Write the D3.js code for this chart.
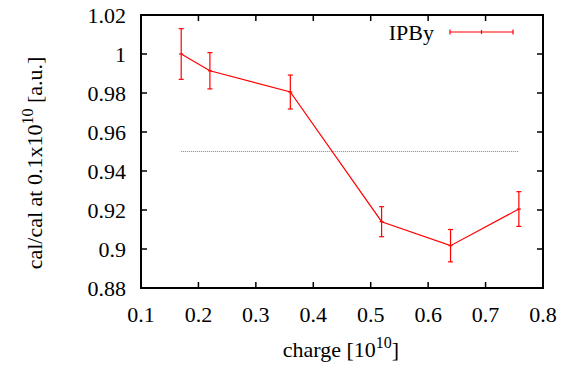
<!DOCTYPE html>
<html><head><meta charset="utf-8">
<script src="https://cdn.jsdelivr.net/npm/d3@7"></script>
</head><body style="margin:0">
<svg id="c" width="562" height="367" font-family="Times New Roman, Liberation Serif, serif"></svg>
<script>
const charge = [0.170, 0.220, 0.360, 0.519, 0.639, 0.758];
const ratio = [1.000, 0.9914, 0.9805, 0.914, 0.9017, 0.9205];
const errs = [0.013, 0.0093, 0.0087, 0.0077, 0.0083, 0.0089];
const refLevel = 0.95;
const xTicks = [0.1,0.2,0.3,0.4,0.5,0.6,0.7,0.8];
const yTicks = [0.88,0.9,0.92,0.94,0.96,0.98,1,1.02];
const seriesName = "IPBy";

const svg = d3.select("#c");
const L=141, R=543, T=15, B=288;
const x = d3.scaleLinear().domain([0.1,0.8]).range([L,R]);
const y = d3.scaleLinear().domain([0.88,1.02]).range([B,T]);
const fs = 22, tl = 6;
const FF = "Times New Roman, Liberation Serif, serif";
function txt(sel){ return sel.append("text").attr("font-size",fs).attr("font-family",FF).style("font-family","'Times New Roman','Liberation Serif',serif"); }

const g = svg;
xTicks.forEach(t=>{
  txt(g).attr("x",x(t)).attr("y",322).attr("text-anchor","middle").text(String(+t.toFixed(2)));
});
yTicks.forEach(t=>{
  txt(g).attr("x",126).attr("y",y(t)+7.5).attr("text-anchor","end").text(String(+t.toFixed(2)));
});
xTicks.slice(1,-1).forEach(t=>{
  g.append("line").attr("x1",x(t)).attr("x2",x(t)).attr("y1",B).attr("y2",B-tl).attr("stroke","#000").attr("stroke-width",1.5);
  g.append("line").attr("x1",x(t)).attr("x2",x(t)).attr("y1",T).attr("y2",T+tl).attr("stroke","#000").attr("stroke-width",1.5);
});
yTicks.slice(1,-1).forEach(t=>{
  g.append("line").attr("x1",L).attr("x2",L+tl).attr("y1",y(t)).attr("y2",y(t)).attr("stroke","#000").attr("stroke-width",1.5);
  g.append("line").attr("x1",R).attr("x2",R-tl).attr("y1",y(t)).attr("y2",y(t)).attr("stroke","#000").attr("stroke-width",1.5);
});
g.append("line").attr("x1",x(charge[0])).attr("x2",x(charge[charge.length-1])).attr("y1",y(refLevel)).attr("y2",y(refLevel))
  .attr("stroke","#888").attr("stroke-width",1).attr("stroke-dasharray","1,1");
const data = charge.map((c,i)=>({c, v:ratio[i], e:errs[i]}));
g.append("path").datum(data).attr("fill","none").attr("stroke","#f00").attr("stroke-width",1.2)
  .attr("d", d3.line().x(d=>x(d.c)).y(d=>y(d.v)));
const cap = 2.5;
data.forEach(d=>{
  const xc=x(d.c);
  g.append("line").attr("x1",xc).attr("x2",xc).attr("y1",y(d.v-d.e)).attr("y2",y(d.v+d.e)).attr("stroke","#f00").attr("stroke-width",1.2);
  [d.v-d.e,d.v+d.e].forEach(v=>g.append("line").attr("x1",xc-cap).attr("x2",xc+cap).attr("y1",y(v)).attr("y2",y(v)).attr("stroke","#f00").attr("stroke-width",1.2));
  g.append("line").attr("x1",xc-2).attr("x2",xc+2).attr("y1",y(d.v)).attr("y2",y(d.v)).attr("stroke","#f00").attr("stroke-width",1.2);
});
txt(g).attr("x",434).attr("y",40).attr("text-anchor","end").text(seriesName);
const ly=32, lx1=450, lx2=513;
g.append("line").attr("x1",lx1).attr("x2",lx2).attr("y1",ly).attr("y2",ly).attr("stroke","#f00").attr("stroke-width",1.2);
[lx1,lx2].forEach(xx=>g.append("line").attr("x1",xx).attr("x2",xx).attr("y1",ly-2.5).attr("y2",ly+2.5).attr("stroke","#f00").attr("stroke-width",1.2));
g.append("line").attr("x1",(lx1+lx2)/2).attr("x2",(lx1+lx2)/2).attr("y1",ly-2).attr("y2",ly+2).attr("stroke","#f00").attr("stroke-width",1.2);
g.append("rect").attr("x",L).attr("y",T).attr("width",R-L).attr("height",B-T).attr("fill","none").attr("stroke","#000").attr("stroke-width",2);
const xl = txt(g).attr("x",341).attr("y",357).attr("text-anchor","middle");
xl.append("tspan").text("charge [10");
xl.append("tspan").attr("dy",-9).attr("font-size",16).text("10");
xl.append("tspan").attr("dy",9).text("]");
const yl = txt(g).attr("transform","translate(42,163) rotate(-90)").attr("text-anchor","middle");
yl.append("tspan").text("cal/cal at 0.1x10");
yl.append("tspan").attr("dy",-9).attr("font-size",16).text("10");
yl.append("tspan").attr("dy",9).text(" [a.u.]");
</script></body></html>
